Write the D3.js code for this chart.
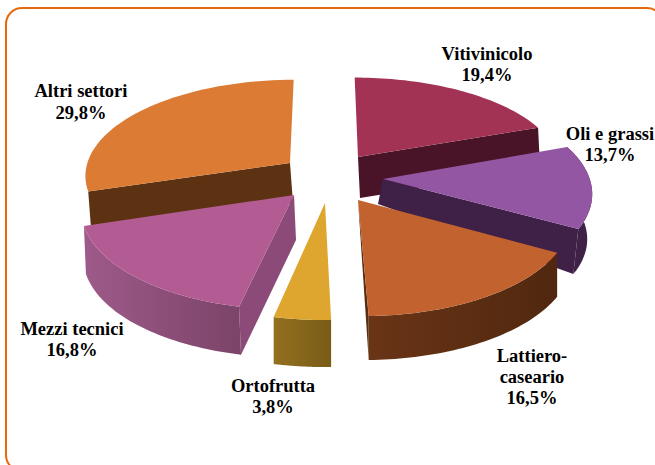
<!DOCTYPE html>
<html><head><meta charset="utf-8">
<script src="https://cdn.jsdelivr.net/npm/d3@7/dist/d3.min.js"></script>
<style>html,body{margin:0;padding:0;background:#fff}svg{display:block}</style>
</head><body><svg id="c" width="655" height="465"></svg>
<script>
const categories = ["Vitivinicolo","Oli e grassi","Lattiero-caseario","Ortofrutta","Mezzi tecnici","Altri settori"];
const shares = [19.4,13.7,16.5,3.8,16.8,29.8];
const labelLines = [["Vitivinicolo","19,4%"],["Oli e grassi","13,7%"],["Lattiero-","caseario","16,5%"],["Ortofrutta","3,8%"],["Mezzi tecnici","16,8%"],["Altri settori","29,8%"]];

// styles and layout, one entry per category
const topColors  = ["#a23355","#9356a3","#c2622f","#dea52f","#b35b93","#db7b34"];
const wallColors = ["#4a1428","#3f2148","#5a2c12","#8a681c","#8c4a78","#5c3213"];
const rimLight   = ["#4a1428","#3f2148","#6a3416","#93701f","#9e5a8a","#5c3213"];
const rimDark    = ["#4a1428","#3f2148","#50280f","#7a5c18","#7c4468","#5c3213"];
const apexX = [358,383,358,325,294,290];
const apexY = [157,179,200,203,195,163];
const radiusA = [214,207,207,207,207,207];
const radial = [0.965,1,1,1,1,1];
const apexDepth = [41,25,0,47,45,40];
const rimDepth = [41,45,44,47,48,40];
const lean = [2,-5,0,0,2,3];
const walls = [["end"],["end","rim"],["rim","end"],["rim"],["start","rim"],["start"]];
const drawOrder = [5,0,1,4,3,2];
const labelX = [487,610,532,273,72,81];
const labelY = [60,140,362,392,335,97];
const labelStep = [21,21,21,21,21,22];

const W=655,H=465,cx=325,cy=180,B=97,c=0.12;
const svg=d3.select("#c");
const defs=svg.append("defs");

const arcs=d3.pie().sort(null).value(d=>d)(shares);
const steps=d3.scaleLinear().domain([0,1]);

function project(i,a,r){
  const sy0=apexY[i]-cy;
  const Y0=sy0/(B+c*sy0);
  const w0=1-c*Y0;
  const X0=(apexX[i]-cx)*w0/radiusA[i];
  const X=X0+radial[i]*r*Math.sin(a), Y=Y0-radial[i]*r*Math.cos(a);
  const w=1-c*Y;
  return [cx+radiusA[i]*X/w, cy+B*Y/w];
}
const line=d3.line();
function rimPoints(i,a0,a1){
  steps.range([a0,a1]);
  return d3.range(0,1.0001,1/48).map(t=>project(i,steps(t),1));
}
const lowered=(i,p,r)=>[p[0]+lean[i], p[1]+(r===0?apexDepth[i]:rimDepth[i])];

drawOrder.forEach(i=>{
  const s=arcs[i], g=svg.append("g").attr("class","slice");
  const apex=project(i,0,0);
  const rim=rimPoints(i,s.startAngle,s.endAngle);
  walls[i].forEach(kind=>{
    if(kind==="rim"){
      const id="rimGrad"+i, xs=d3.extent(rim,p=>p[0]);
      const gr=defs.append("linearGradient").attr("id",id).attr("gradientUnits","userSpaceOnUse")
        .attr("x1",xs[0]).attr("x2",xs[1]).attr("y1",0).attr("y2",0);
      gr.append("stop").attr("offset",0).attr("stop-color",rimLight[i]);
      gr.append("stop").attr("offset",1).attr("stop-color",rimDark[i]);
      const bottom=rim.map(p=>lowered(i,p,1)).reverse();
      g.append("path").attr("d",line(rim.concat(bottom))+"Z").attr("fill",`url(#${id})`);
    } else {
      const edge=kind==="end"?rim[rim.length-1]:rim[0];
      g.append("path")
       .attr("d",line([apex,edge,lowered(i,edge,1),lowered(i,apex,0)])+"Z")
       .attr("fill",wallColors[i]);
    }
  });
  g.append("path").attr("d",line([apex].concat(rim))+"Z").attr("fill",topColors[i]);
});

labelLines.forEach((ls,i)=>{
  const t=svg.append("text").attr("text-anchor","middle")
    .attr("font-family","'Liberation Serif','Times New Roman',serif")
    .attr("font-weight","bold").attr("font-size",18.5).attr("fill","#000");
  ls.forEach((l,j)=>t.append("tspan")
    .attr("x",labelX[i])
    .attr("y",labelY[i]+j*labelStep[i]).text(l));
});

svg.append("path")
  .attr("d",`M22,471 A16,16 0 0 1 6,455 V24 A16,16 0 0 1 22,8 H647 A16,16 0 0 1 663,24`)
  .attr("fill","none").attr("stroke","#e8690b").attr("stroke-width",2);
</script></body></html>
